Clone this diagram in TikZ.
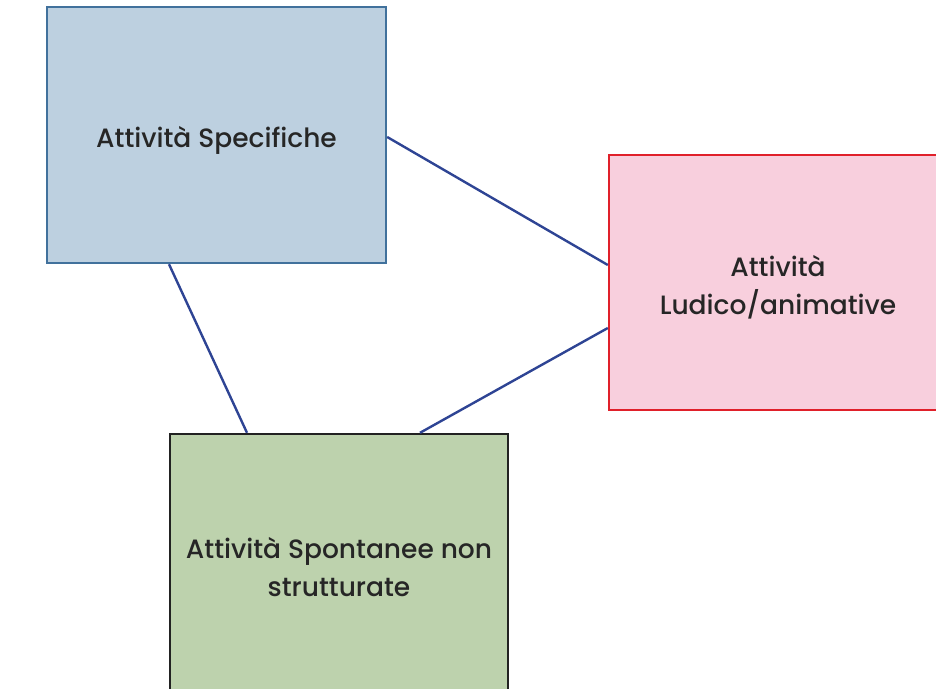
\documentclass[tikz,border=0pt]{standalone}
\usepackage{fontspec}
\setmainfont{Poppins}[UprightFont=* Medium]
\definecolor{bluefill}{HTML}{BDD0E0}
\definecolor{blueedge}{HTML}{41719C}
\definecolor{pinkfill}{HTML}{F8CFDD}
\definecolor{pinkedge}{HTML}{E0202A}
\definecolor{greenfill}{HTML}{BDD2AD}
\definecolor{greenedge}{HTML}{222222}
\definecolor{linkcol}{HTML}{2E4494}
\definecolor{txt}{HTML}{262626}
\tikzset{
  boxbase/.style={rectangle, line width=2.4pt, align=center, text=txt,
    font=\fontsize{26.5}{38}\selectfont, inner sep=0pt},
  link/.style={draw=linkcol, line width=2.4pt}
}
\begin{document}
\begin{tikzpicture}[x=1pt,y=-1pt]
\useasboundingbox (0,0) rectangle (936,688);
\clip (0,0) rectangle (936,688);
\node[boxbase, fill=bluefill, draw=blueedge, minimum width=339pt, minimum height=256pt] (spec) at (216.5,135) {};
\node[boxbase, fill=pinkfill, draw=pinkedge, minimum width=340pt, minimum height=255pt] (ludi) at (779,282.5) {};
\node[boxbase, fill=greenfill, draw=greenedge, minimum width=338pt, minimum height=270pt] (spon) at (339,569) {};
\node[boxbase] (tspec) at (216.5,140) {Attività Specifiche};
\node[boxbase] (tludi) at (778,287) {Attività\\Ludico/animative};
\node[boxbase] (tspon) at (339,567) {Attività Spontanee non\\strutturate};
\draw[link] ([yshift=-2pt]spec.east) -- ([yshift=17.5pt]ludi.west);
\draw[link] ([xshift=-47.5pt]spec.south) -- ([xshift=-92pt]spon.north);
\draw[link] ([yshift=-45.5pt]ludi.west) -- ([xshift=81pt]spon.north);
\end{tikzpicture}
\end{document}
